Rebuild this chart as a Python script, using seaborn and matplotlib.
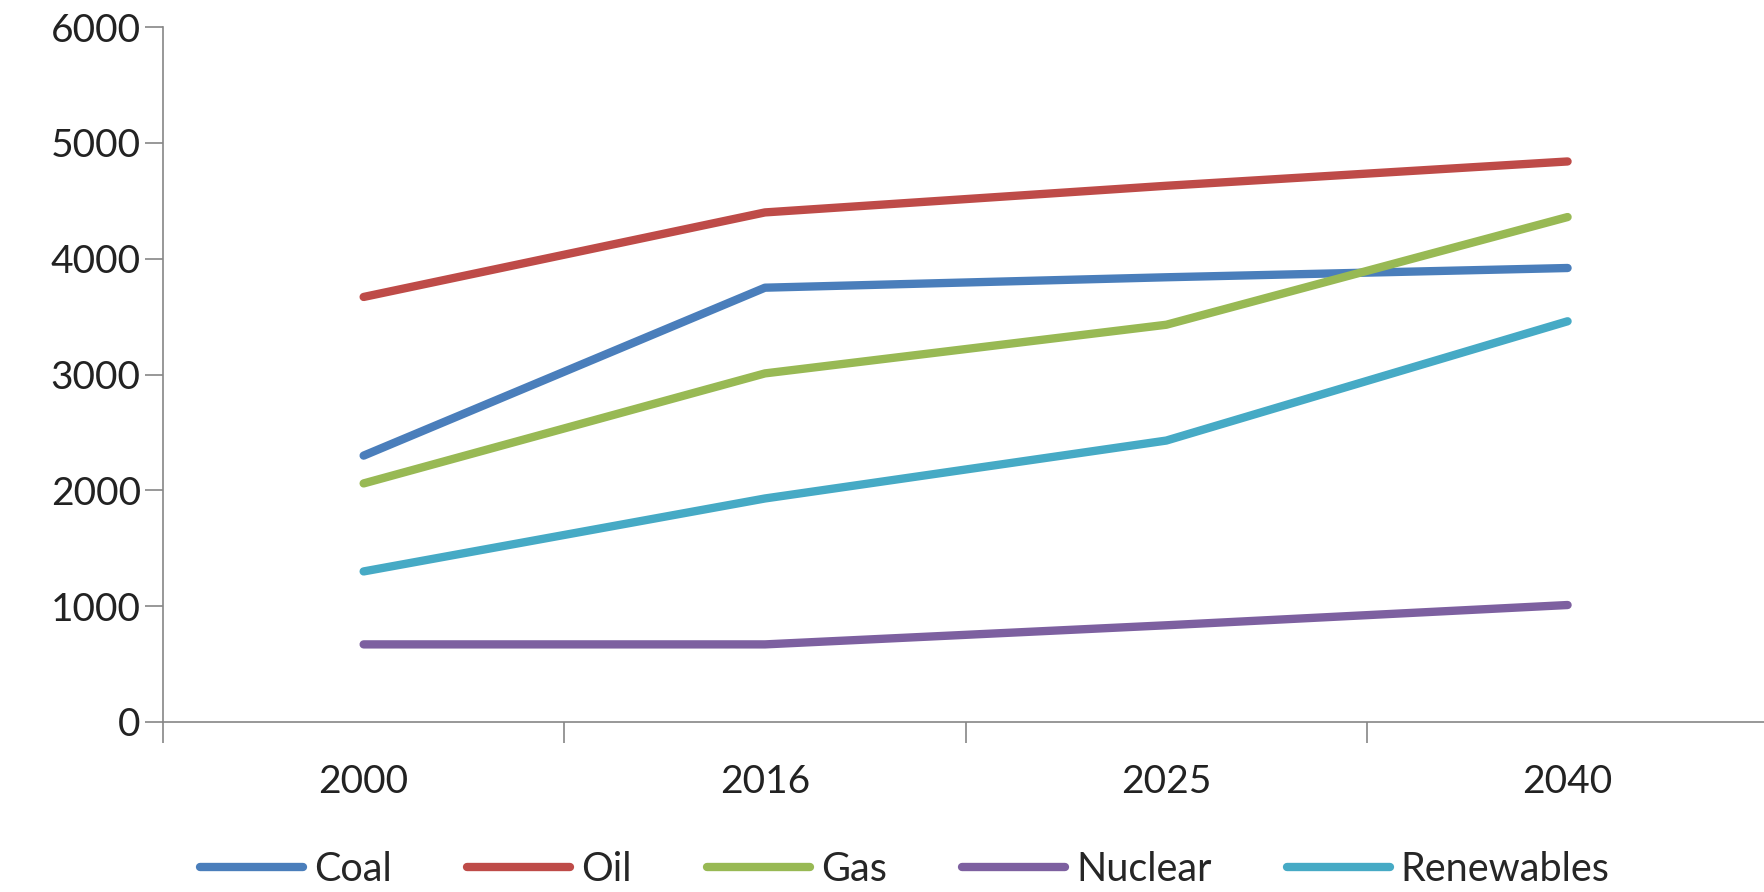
import pandas as pd
import matplotlib
matplotlib.use('Agg')
import matplotlib.pyplot as plt
import seaborn as sns

years = ['2000', '2016', '2025', '2040']
coal = [2300, 3750, 3840, 3920]
oil = [3670, 4400, 4630, 4840]
gas = [2060, 3010, 3430, 4360]
nuclear = [670, 670, 835, 1010]
renewables = [1300, 1930, 2430, 3460]

sources = ['Coal', 'Oil', 'Gas', 'Nuclear', 'Renewables']
colors = ['#4A7EBB', '#BE4B48', '#98B954', '#7D60A0', '#46AAC5']

rows = []
for name, vals in zip(sources, [coal, oil, gas, nuclear, renewables]):
    for y, v in zip(years, vals):
        rows.append({'year': y, 'value': v, 'source': name})
df = pd.DataFrame(rows)

sns.set_style('white')
plt.rcParams['font.family'] = ['Lato', 'DejaVu Sans']

fig = plt.figure(figsize=(17.64, 8.92), dpi=100)
ax = fig.add_axes([0.0924, 0.1906, 0.91, 0.779])

sns.lineplot(data=df, x='year', y='value', hue='source', hue_order=sources,
             palette=colors, linewidth=6, ax=ax, legend=True)
for ln in ax.lines:
    ln.set_solid_capstyle('round')

ax.set_xlim(-0.5, 3.5)
ax.set_ylim(0, 6000)
ax.set_yticks(range(0, 6001, 1000))
ax.set_xlabel('')
ax.set_ylabel('')

ax.set_xticks(range(4))
ax.set_xticklabels(years)
ax.set_xticks([-0.5, 0.5, 1.5, 2.5, 3.5], minor=True)
ax.tick_params(axis='x', which='major', bottom=True, length=0, pad=30,
               labelsize=28, colors='#222222')
ax.tick_params(axis='x', which='minor', bottom=True, length=15, width=1.2,
               color='#868686', direction='out')
ax.tick_params(axis='y', left=True, length=13, width=1.2, color='#868686',
               direction='out', labelsize=28, labelcolor='#222222', pad=3)

for s in ['top', 'right']:
    ax.spines[s].set_visible(False)
for s in ['left', 'bottom']:
    ax.spines[s].set_color('#868686')
    ax.spines[s].set_linewidth(1.2)

handles, labels = ax.get_legend_handles_labels()
ax.get_legend().remove()
leg = fig.legend(handles, labels, loc='lower center', bbox_to_anchor=(0.513, -0.035),
                 ncol=5, frameon=False, fontsize=28.5, handlelength=2.6,
                 columnspacing=1.9, handletextpad=0.28)
for h in leg.get_lines():
    h.set_linewidth(6)
    h.set_solid_capstyle('round')

fig.savefig('out.png', dpi=100)
